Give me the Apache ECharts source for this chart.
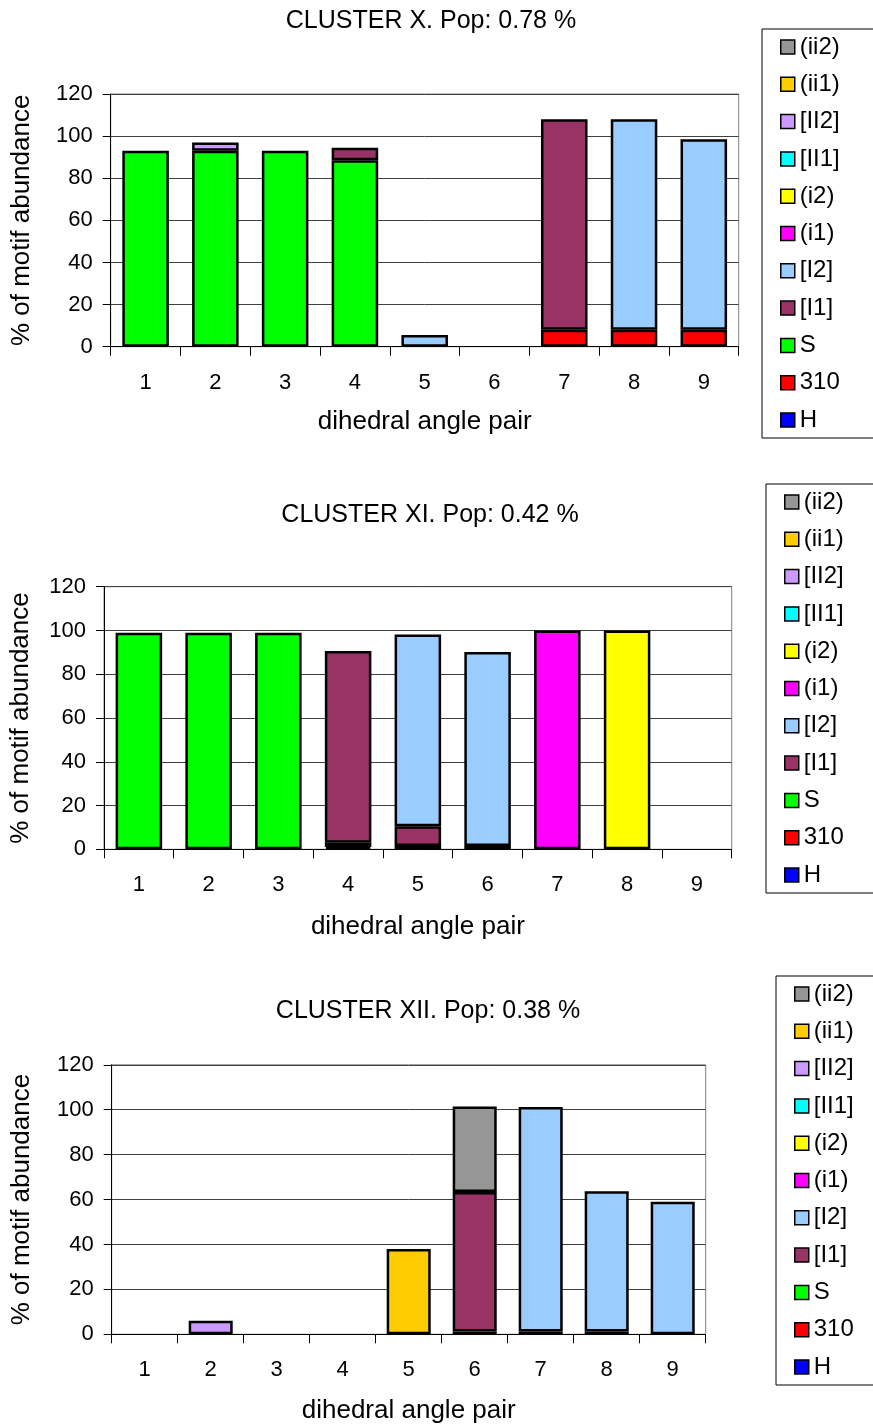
<!DOCTYPE html>
<html>
<head>
<meta charset="utf-8">
<script src="https://cdn.jsdelivr.net/npm/echarts@6/dist/echarts.min.js"></script>
<style>
html,body{margin:0;padding:0;background:#fff;}
#chart{width:873px;height:1427px;}
</style>
</head>
<body>
<div id="chart"></div>
<script>
// ---- data ----
const categories = ['1','2','3','4','5','6','7','8','9'];
const seriesNames = ['H','310','S','[I1]','[I2]','(i1)','(i2)','[II1]','[II2]','(ii1)','(ii2)'];
const seriesColors = ['#0000FF','#FF0000','#00FF00','#993366','#99CCFF','#FF00FF','#FFFF00','#00FFFF','#CC99FF','#FFCC00','#969696'];
const yTickValues = [0,20,40,60,80,100,120];

const titles = ['CLUSTER X. Pop: 0.78 %','CLUSTER XI. Pop: 0.42 %','CLUSTER XII. Pop: 0.38 %'];

// Cluster X
const clusterX_310 = [0,0,0,0,0,0,8,8,8];
const clusterX_S   = [93,93,93,88.5,0,0,0,0,0];
const clusterX_I1  = [0,0,0,6,0,0,100,0,0];
const clusterX_I2  = [0,0,0,0,5.5,0,0,100,90.5];
const clusterX_II2 = [0,4,0,0,0,0,0,0,0];

// Cluster XI
const clusterXI_310 = [0,0,0,1,1.5,1.5,0,0,0];
const clusterXI_S   = [99,99,99,2,0,0,0,0,0];
const clusterXI_I1  = [0,0,0,87.6,9,0,0,0,0];
const clusterXI_I2  = [0,0,0,0,87.7,88.7,0,0,0];
const clusterXI_i1  = [0,0,0,0,0,0,100,0,0];
const clusterXI_i2  = [0,0,0,0,0,0,0,100,0];

// Cluster XII
const clusterXII_H   = [0,0,0,0,0,1.2,1.2,1.2,0];
const clusterXII_I1  = [0,0,0,0,0,62.2,0,0,0];
const clusterXII_I2  = [0,0,0,0,0,0,100,62.5,59];
const clusterXII_II2 = [0,6,0,0,0,0,0,0,0];
const clusterXII_ii1 = [0,0,0,0,38,0,0,0,0];
const clusterXII_ii2 = [0,0,0,0,0,38,0,0,0];

const chartData = [
  {'310':clusterX_310,'S':clusterX_S,'[I1]':clusterX_I1,'[I2]':clusterX_I2,'[II2]':clusterX_II2},
  {'310':clusterXI_310,'S':clusterXI_S,'[I1]':clusterXI_I1,'[I2]':clusterXI_I2,'(i1)':clusterXI_i1,'(i2)':clusterXI_i2},
  {'H':clusterXII_H,'[I1]':clusterXII_I1,'[I2]':clusterXII_I2,'[II2]':clusterXII_II2,'(ii1)':clusterXII_ii1,'(ii2)':clusterXII_ii2}
];

// ---- layout ----
const FONT = 'Arial, "Liberation Sans", sans-serif';
const FS = 24;
const TICK_FS = 22;
const grids = [
  {left:110.7, top:94,    width:628, height:252.7},
  {left:101.7, top:586.7, width:630, height:262.6},
  {left:111.7, top:1064.8,width:594, height:269.5}
];
const titlePos = [{left:431, top:9},{left:430, top:503},{left:428, top:999}];
const legendPos = [{left:762, top:29},{left:766, top:484},{left:776, top:976}];
const xNameGap = [62, 65, 64];
const yNameGap = [76, 70, 77];

const option = {
  animation:false,
  backgroundColor:'#fff',
  title: titles.map((t,i)=>({
    text:t, left:titlePos[i].left, top:titlePos[i].top, textAlign:'center', padding:0,
    textStyle:{fontSize:25, fontWeight:'normal', color:'#000', fontFamily:FONT}
  })),
  legend: legendPos.map(p=>({
    orient:'vertical', left:p.left, top:p.top,
    data: seriesNames.slice().reverse(),
    selectedMode:false,
    icon:'rect', itemWidth:14, itemHeight:14, itemGap:13.3,
    padding:[6,80,6,18],
    borderColor:'#000', borderWidth:1,
    itemStyle:{borderColor:'#000', borderWidth:1.5},
    textStyle:{fontSize:FS, color:'#000', fontFamily:FONT, lineHeight:24}
  })),
  grid: grids.map(g=>Object.assign({show:true, borderColor:'#808080', borderWidth:1, backgroundColor:'transparent', containLabel:false}, g)),
  xAxis: grids.map((g,i)=>({
    type:'category', gridIndex:i, data:categories,
    name:'dihedral angle pair', nameLocation:'middle', nameGap:xNameGap[i],
    nameTextStyle:{fontSize:26, color:'#000', fontFamily:FONT},
    axisLine:{lineStyle:{color:'#000', width:1}},
    axisTick:{show:true, length:9, lineStyle:{color:'#000'}},
    axisLabel:{fontSize:TICK_FS, color:'#000', fontFamily:FONT, margin:25},
    splitLine:{show:false}
  })),
  yAxis: grids.map((g,i)=>({
    type:'value', gridIndex:i, min:0, max:120, interval:20,
    name:'% of motif abundance', nameLocation:'middle', nameGap:yNameGap[i], nameRotate:90,
    nameTextStyle:{fontSize:26, color:'#000', fontFamily:FONT},
    axisLine:{show:true, lineStyle:{color:'#000', width:1}},
    axisTick:{show:true, length:8, lineStyle:{color:'#000'}},
    axisLabel:{fontSize:TICK_FS, color:'#000', fontFamily:FONT, margin:18},
    splitLine:{show:true, lineStyle:{color:'#404040', width:1}}
  })),
  series: []
};

chartData.forEach((d,ci)=>{
  seriesNames.forEach((name,si)=>{
    const vals = d[name] || categories.map(()=>0);
    option.series.push({
      type:'bar', name:name, xAxisIndex:ci, yAxisIndex:ci, stack:'c'+ci,
      barWidth:'66.7%',
      data: vals.map(v=> v>0 ? v : null),
      itemStyle:{color:seriesColors[si], borderColor:'#000', borderWidth:2.5},
      emphasis:{disabled:true}
    });
  });
});

const chart = echarts.init(document.getElementById('chart'), null, {renderer:'canvas'});
chart.setOption(option);
</script>
</body>
</html>
